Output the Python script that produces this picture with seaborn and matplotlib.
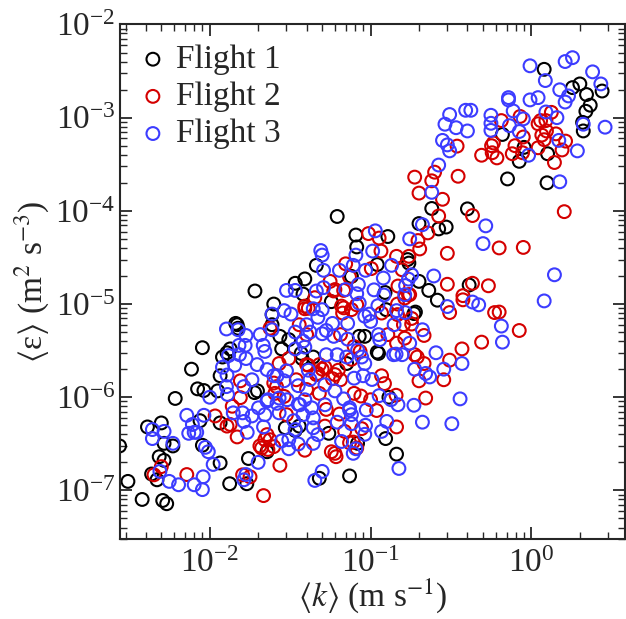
import numpy as np
import pandas as pd
import seaborn as sns
import matplotlib.pyplot as plt

# (k, eps) pairs, one list per flight
flight1 = [
    (1.2, 3.3e-3), (2.0, 2.3e-3), (1.8, 2.1e-3), (2.2, 1.77e-3), (2.75, 1.93e-3),
    (2.32, 1.36e-3), (2.18, 1.17e-3), (2.08, 8.9e-4), (2.1, 7.2e-4), (0.66, 6.6e-4),
    (0.9, 4.8e-4), (0.84, 3.4e-4), (1.26, 4.1e-4), (0.71, 2.2e-4), (1.25, 2.0e-4),
    (0.062, 8.7e-5), (0.24, 1.06e-4), (0.4, 1.05e-4), (0.2, 7.3e-5), (0.265, 6.4e-5),
    (0.295, 6.7e-5), (0.081, 5.5e-5), (0.082, 4.1e-5), (0.128, 5.3e-5), (0.046, 2.6e-5),
    (0.11, 2.65e-5), (0.039, 1.86e-5), (0.038, 1.28e-5), (0.2, 1.75e-5), (0.23, 1.4e-5),
    (0.26, 1.1e-5), (0.41, 1.6e-5), (0.17, 3.0e-5), (0.076, 1.98e-5), (0.123, 1.33e-5),
    (0.19, 8.2e-6), (0.173, 2.75e-5), (0.034, 1.67e-5), (0.0191, 1.38e-5), (0.025, 1.0e-5),
    (0.0244, 7.7e-6), (0.0145, 6.2e-6), (0.009, 3.4e-6), (0.0077, 2.0e-6), (0.0134, 3.3e-6),
    (0.012, 2.7e-6), (0.057, 1.06e-5), (0.0273, 4.5e-6), (0.031, 4.15e-6), (0.028, 3.3e-6),
    (0.044, 2.7e-6), (0.071, 2.3e-6), (0.112, 2.95e-6), (0.092, 4.5e-6), (0.125, 8.7e-6),
    (0.186, 7.9e-6), (0.085, 4.5e-6), (0.037, 2.95e-6), (0.13, 1.0e-6), (0.036, 4.9e-7),
    (0.055, 4.1e-7), (0.124, 3.6e-7), (0.083, 3.2e-7), (0.145, 2.45e-7), (0.074, 1.43e-7),
    (0.048, 1.35e-7), (0.00275, 3.0e-7), (0.0031, 1.25e-7), (0.0038, 8.0e-8), (0.0051, 7.8e-8),
    (0.0054, 7.2e-8), (0.0041, 4.8e-7), (0.0050, 5.3e-7), (0.0052, 3.2e-7), (0.0059, 3.0e-7),
    (0.00485, 2.3e-7), (0.0052, 2.1e-7), (0.00435, 1.5e-7), (0.0047, 1.3e-7), (0.0061, 9.7e-7),
    (0.0084, 1.23e-6), (0.0092, 1.18e-6), (0.009, 3.05e-7), (0.0116, 1.97e-7), (0.0133, 1.18e-7),
    (0.0174, 2.2e-7), (0.017, 1.18e-7), (0.0087, 5.6e-7), (0.0116, 5.3e-7), (0.0112, 1.17e-6),
    (0.0116, 1.7e-6), (0.0128, 3.0e-6), (0.0148, 6.0e-6), (0.015, 5.5e-6), (0.019, 1.12e-6),
    (0.0244, 6.0e-6), (0.0227, 2.6e-7), (0.0295, 4.7e-7), (0.034, 4.4e-7), (0.0375, 2.6e-6),
    (0.0198, 1.17e-6), (0.11, 3.05e-6),
]

flight2 = [
    (0.188, 2.3e-4), (0.2, 1.55e-4), (0.24, 2.1e-4), (0.25, 2.6e-4), (0.35, 2.35e-4),
    (0.28, 1.33e-4), (0.265, 8.8e-5), (0.43, 8.9e-5), (0.227, 5.8e-5), (0.197, 4.8e-5),
    (0.202, 3.9e-5), (0.3, 3.5e-5), (0.63, 4.0e-5), (0.89, 4.05e-5), (1.6, 9.8e-5),
    (0.49, 3.95e-4), (0.565, 5.0e-4), (0.58, 5.35e-4), (0.57, 4.2e-4), (0.61, 3.7e-4),
    (0.65, 9.3e-4), (0.76, 4.1e-4), (0.79, 5.0e-4), (0.85, 1.03e-3), (0.88, 4.2e-4),
    (0.89, 6.2e-4), (1.1, 8.6e-4), (1.14, 9.3e-4), (1.23, 9.3e-4), (1.33, 1.14e-3),
    (1.16, 6.5e-4), (1.24, 7.2e-4), (1.42, 6.7e-4), (1.1, 4.75e-4), (1.2, 5.8e-4),
    (1.55, 4.5e-4), (1.63, 5.6e-4), (1.39, 3.3e-4), (0.345, 4.95e-4), (0.173, 3.25e-5),
    (0.145, 3.25e-5), (0.157, 2.33e-5), (0.097, 5.7e-5), (0.113, 5.1e-5), (0.116, 3.7e-5),
    (0.07, 2.7e-5), (0.074, 1.95e-5), (0.101, 2.4e-5), (0.148, 1.56e-5), (0.172, 1.26e-5),
    (0.147, 1.0e-5), (0.3, 1.63e-5), (0.43, 1.67e-5), (0.54, 1.57e-5), (0.375, 1.23e-5),
    (0.31, 8.1e-6), (0.59, 8.1e-6), (0.63, 8.2e-6), (0.056, 1.75e-5), (0.059, 1.38e-5),
    (0.066, 9.5e-6), (0.039, 8.9e-6), (0.117, 8.0e-6), (0.082, 9.8e-6), (0.147, 7.7e-6),
    (0.16, 6.0e-6), (0.18, 6.1e-6), (0.215, 4.6e-6), (0.375, 1.11e-5), (0.84, 5.2e-6),
    (0.49, 3.9e-6), (0.37, 3.3e-6), (0.31, 2.5e-6), (0.285, 1.54e-6), (0.195, 2.7e-6),
    (0.215, 2.3e-6), (0.2, 1.5e-6), (0.122, 1.4e-6), (0.117, 1.7e-6), (0.22, 9.8e-7),
    (0.144, 1.05e-6), (0.145, 4.8e-7), (0.088, 4.6e-7), (0.078, 3.3e-7), (0.06, 2.5e-7),
    (0.057, 2.6e-7), (0.039, 2.7e-7), (0.065, 4.7e-6), (0.076, 2.55e-6), (0.063, 1.95e-6),
    (0.058, 1.58e-6), (0.1, 9.4e-7), (0.048, 1.1e-6), (0.046, 1.75e-6), (0.04, 2.24e-6),
    (0.048, 2.24e-6), (0.109, 7.2e-7), (0.064, 6.6e-7), (0.053, 7.4e-7), (0.052, 4.9e-7),
    (0.068, 1.4e-5), (0.163, 1.16e-5), (0.041, 9.0e-6), (0.0237, 5.5e-6), (0.04, 4.7e-6),
    (0.067, 8.0e-6), (0.18, 7.0e-6), (0.163, 4.3e-6), (0.145, 3.8e-6), (0.128, 4.7e-6),
    (0.188, 2.86e-6), (0.027, 2.3e-6), (0.086, 3.1e-6), (0.045, 1.17e-5), (0.0045, 1.47e-7),
    (0.005, 1.8e-7), (0.0072, 1.48e-7), (0.0108, 6.3e-7), (0.0134, 5.1e-7), (0.0148, 3.75e-7),
    (0.0155, 9.9e-7), (0.016, 1.47e-7), (0.0216, 8.8e-8), (0.0273, 1.86e-7), (0.0205, 3.0e-7),
    (0.0227, 3.97e-7), (0.031, 2.6e-6), (0.025, 1.42e-6), (0.029, 1.02e-6), (0.0345, 1.54e-6),
    (0.04, 1.21e-6), (0.03, 6.5e-7), (0.0138, 8.0e-7), (0.0128, 4.9e-7), (0.0237, 3.5e-7),
    (0.023, 2.75e-7), (0.065, 1.54e-6), (0.0254, 1.1e-6), (0.087, 1.03e-6), (0.0178, 1.4e-7),
    (0.061, 2.3e-7), (0.041, 2.2e-6), (0.05, 2.0e-6), (0.074, 3.25e-7), (0.039, 9.5e-6),
    (0.068, 9.1e-6), (0.175, 1.26e-5), (0.06, 1.43e-5), (0.076, 8.7e-6), (0.036, 6.0e-6),
    (0.079, 3.5e-6), (0.0155, 1.5e-6), (0.026, 1.3e-6), (0.021, 2.85e-7), (0.079, 1.1e-6),
    (0.069, 4.3e-7), (0.082, 2.85e-7), (0.047, 1.8e-6), (0.052, 2.1e-6), (0.06, 1.75e-6),
    (0.022, 3.5e-7), (0.025, 2.95e-7),
]

flight3 = [
    (0.98, 3.6e-3), (1.62, 4.0e-3), (1.8, 4.4e-3), (2.4, 3.1e-3), (2.7, 2.3e-3),
    (1.22, 2.5e-3), (1.5, 1.99e-3), (1.7, 1.71e-3), (1.62, 1.47e-3), (0.72, 1.64e-3),
    (0.72, 1.55e-3), (0.98, 1.55e-3), (1.1, 1.64e-3), (1.23, 1.15e-3), (1.44, 1.0e-3),
    (2.1, 8.5e-4), (2.87, 7.9e-4), (0.77, 1.18e-3), (0.89, 9.7e-4), (0.84, 7.1e-4),
    (0.73, 8.2e-4), (0.56, 1.06e-3), (0.56, 8.7e-4), (0.56, 7.3e-4), (0.39, 1.2e-3),
    (0.42, 1.2e-3), (0.31, 1.08e-3), (0.29, 8.5e-4), (0.34, 7.8e-4), (0.4, 7.2e-4),
    (0.28, 5.7e-4), (0.3, 5.1e-4), (0.31, 4.4e-4), (0.96, 3.95e-4), (1.48, 5.7e-4),
    (1.93, 4.4e-4), (0.265, 3.1e-4), (0.24, 1.58e-4), (1.5, 2.05e-4), (0.21, 7.1e-5),
    (0.52, 6.9e-5), (0.175, 5.0e-5), (0.5, 4.45e-5), (1.39, 2.06e-5), (1.2, 1.08e-5),
    (0.247, 2.0e-5), (0.3, 9.4e-6), (0.43, 1.05e-5), (0.47, 9.8e-6), (0.107, 6.1e-5),
    (0.103, 3.7e-5), (0.049, 3.75e-5), (0.05, 3.35e-5), (0.081, 3.35e-5), (0.078, 2.6e-5),
    (0.051, 2.3e-5), (0.064, 2.3e-5), (0.135, 2.6e-5), (0.093, 2.3e-5), (0.12, 1.9e-5),
    (0.084, 1.62e-5), (0.07, 1.43e-5), (0.082, 1.29e-5), (0.105, 1.42e-5), (0.121, 1.25e-5),
    (0.085, 1.02e-5), (0.111, 9.6e-6), (0.046, 1.38e-5), (0.051, 1.5e-5), (0.165, 1.58e-5),
    (0.172, 1.85e-5), (0.18, 2.06e-5), (0.164, 8.1e-6), (0.044, 8.9e-6), (0.05, 8.7e-6),
    (0.047, 7.2e-6), (0.092, 7.4e-6), (0.098, 7.8e-6), (0.65, 5.8e-6), (0.66, 3.9e-6),
    (0.058, 6.2e-6), (0.072, 6.2e-6), (0.053, 5.2e-6), (0.042, 5.0e-6), (0.038, 4.0e-6),
    (0.14, 6.0e-6), (0.21, 5.3e-6), (0.114, 4.15e-6), (0.175, 3.8e-6), (0.255, 3.0e-6),
    (0.37, 2.3e-6), (0.072, 4.2e-6), (0.062, 2.86e-6), (0.083, 3.2e-6), (0.088, 2.7e-6),
    (0.144, 2.9e-6), (0.188, 2.0e-6), (0.22, 1.8e-6), (0.233, 1.65e-6), (0.285, 2.0e-6),
    (0.041, 1.95e-6), (0.052, 1.36e-6), (0.042, 1.55e-6), (0.079, 1.6e-6), (0.102, 1.55e-6),
    (0.06, 1.17e-6), (0.068, 9.6e-7), (0.113, 1.04e-6), (0.148, 8.3e-7), (0.186, 8.2e-7),
    (0.36, 9.6e-7), (0.039, 9.4e-7), (0.043, 7.7e-7), (0.052, 8.3e-7), (0.074, 7.3e-7),
    (0.094, 7.3e-7), (0.076, 6.5e-7), (0.038, 6.5e-7), (0.044, 6.0e-7), (0.062, 5.4e-7),
    (0.076, 5.2e-7), (0.093, 5.0e-7), (0.126, 5.5e-7), (0.117, 4.3e-7), (0.21, 5.4e-7),
    (0.32, 5.2e-7), (0.044, 4.7e-7), (0.047, 3.97e-7), (0.066, 3.35e-7), (0.044, 3.2e-7),
    (0.081, 2.8e-7), (0.078, 2.5e-7), (0.15, 1.72e-7), (0.05, 1.6e-7), (0.045, 1.28e-7),
    (0.03, 1.4e-5), (0.034, 1.4e-5), (0.163, 1.26e-5), (0.145, 8.5e-6), (0.029, 8.5e-6),
    (0.032, 7.8e-6), (0.0244, 7.8e-6), (0.04, 6.0e-6), (0.1, 6.5e-6), (0.05, 4.8e-6),
    (0.059, 4.5e-6), (0.112, 4.7e-6), (0.034, 3.3e-6), (0.039, 3.45e-6), (0.053, 2.86e-6),
    (0.071, 2.7e-6), (0.157, 2.86e-6), (0.092, 2.3e-6), (0.0244, 5.3e-6), (0.0127, 5.4e-6),
    (0.015, 5.3e-6), (0.0168, 4.6e-6), (0.0206, 4.7e-6), (0.0152, 3.6e-6), (0.0166, 3.6e-6),
    (0.0215, 3.6e-6), (0.022, 3.1e-6), (0.0131, 2.8e-6), (0.0153, 2.86e-6), (0.0168, 2.6e-6),
    (0.012, 2.1e-6), (0.0143, 2.2e-6), (0.0197, 2.24e-6), (0.0227, 1.98e-6), (0.0128, 1.73e-6),
    (0.01, 1.0e-6), (0.0127, 1.3e-6), (0.0129, 1.07e-6), (0.0163, 1.3e-6), (0.0183, 1.54e-6),
    (0.0227, 9.1e-7), (0.0201, 7.7e-7), (0.0262, 8.6e-7), (0.014, 6.8e-7), (0.016, 6.8e-7),
    (0.0183, 6.3e-7), (0.022, 6.5e-7), (0.0163, 5.5e-7), (0.0171, 4.2e-7), (0.0216, 4.8e-7),
    (0.0072, 6.4e-7), (0.0078, 5.1e-7), (0.0092, 6.4e-7), (0.008, 4.2e-7), (0.0074, 4.1e-7),
    (0.0044, 4.5e-7), (0.0044, 3.6e-7), (0.0052, 4.3e-7), (0.0059, 3.2e-7), (0.0094, 2.9e-7),
    (0.0098, 2.6e-7), (0.134, 9.4e-7), (0.09, 1.7e-6), (0.0355, 1.33e-6), (0.029, 1.5e-6),
    (0.025, 1.7e-6), (0.03, 1.92e-6), (0.027, 9.8e-7), (0.0303, 9.4e-7), (0.023, 9.4e-7),
    (0.0355, 8.4e-7), (0.027, 6.8e-7), (0.0333, 5.6e-7), (0.034, 4.5e-7), (0.092, 4.0e-7),
    (0.028, 3.4e-7), (0.0355, 3.15e-7), (0.0105, 1.9e-7), (0.02, 2.0e-7), (0.0168, 1.48e-7),
    (0.0163, 1.3e-7), (0.0091, 1.4e-7), (0.009, 1.02e-7), (0.008, 1.15e-7), (0.0064, 1.15e-7),
    (0.0056, 1.25e-7), (0.0049, 1.6e-7), (0.031, 2.8e-7), (0.034, 5.0e-6),
    (0.139, 2.86e-6), (0.074, 7.7e-7), (0.0262, 1.7e-6), (0.031, 3.5e-7), (0.0083, 4.2e-7),
    (0.0363, 8.3e-7),
]

names = ['Flight 1', 'Flight 2', 'Flight 3']
colors = ['black', '#d40000', '#3c3cff']

sns.set_style('ticks')
plt.rcParams['font.family'] = ['Liberation Serif', 'DejaVu Serif']
plt.rcParams['mathtext.fontset'] = 'stix'

frames = []
for name, pts in zip(names, [flight1, flight2, flight3]):
    k, eps = zip(*pts)
    frames.append(pd.DataFrame({'k': k, 'eps': eps, 'flight': name}))
df = pd.concat(frames, ignore_index=True)

fig = plt.figure(figsize=(6.26, 6.19), dpi=100)
ax = fig.add_axes([0.191, 0.129, 0.8075, 0.8315])

for name, c in zip(names, colors):
    sns.scatterplot(data=df[df['flight'] == name], x='k', y='eps', ax=ax,
                    color=c, facecolors='none', edgecolor=c, s=85,
                    linewidth=1.5, label=name)

ax.set_xscale('log')
ax.set_yscale('log')
ax.set_xlim(2.75e-3, 3.82)
ax.set_ylim(3.0e-8, 1e-2)

for sp in ax.spines.values():
    sp.set_linewidth(1.5)
    sp.set_visible(True)
ax.tick_params(which='both', direction='in', top=True, right=True)
ax.tick_params(which='major', length=8.5, width=1.3, labelsize=24)
ax.tick_params(axis='x', which='major', pad=7)
ax.tick_params(axis='y', which='major', pad=3)
ax.tick_params(which='minor', length=5, width=1.0)

ax.set_xlabel(r'$\langle k\rangle$ (m s$^{-1}$)', fontsize=24, labelpad=-2)
ax.set_ylabel(r'$\langle$ε$\rangle$ (m$^2$ s$^{-3}$)', fontsize=24, labelpad=2)

ax.legend(loc='upper left', frameon=False, fontsize=24, handletextpad=0.3,
          labelspacing=0.2, borderaxespad=0.2, handlelength=0.8)

fig.savefig('out.png', dpi=100)
